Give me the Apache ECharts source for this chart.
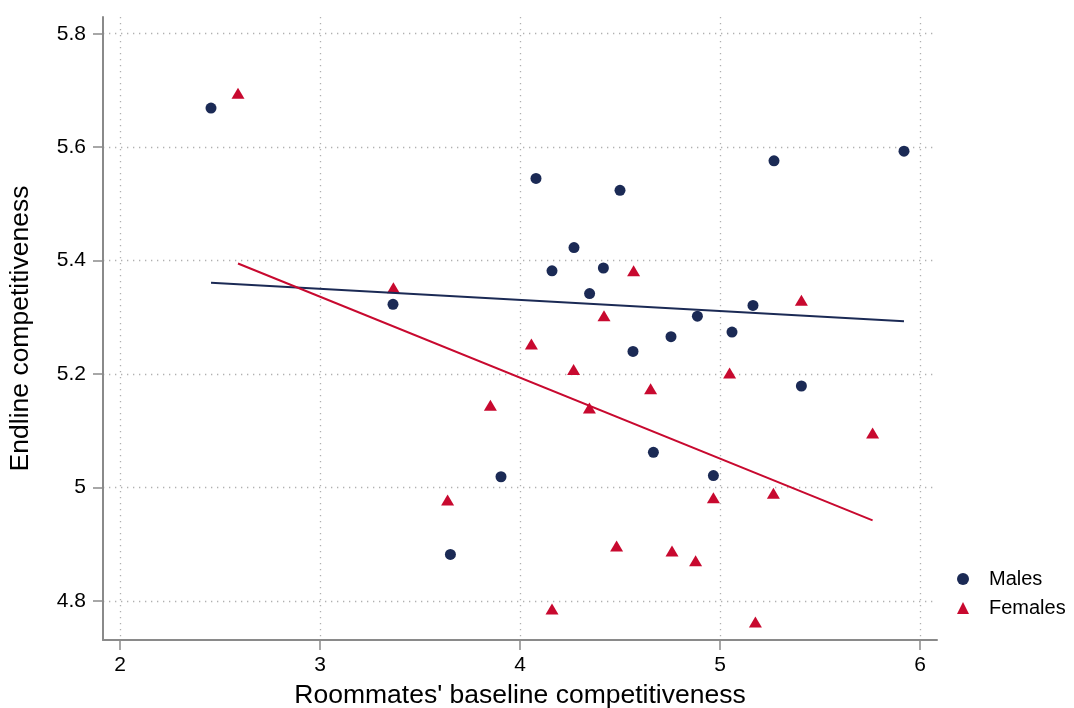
<!DOCTYPE html>
<html>
<head>
<meta charset="utf-8">
<script src="https://cdn.jsdelivr.net/npm/echarts@6/dist/echarts.min.js"></script>
<style>
  html, body { margin: 0; padding: 0; background: #fff; }
  #chart { width: 1074px; height: 708px; }
</style>
</head>
<body>
<div id="chart"></div>
<script>
// ---- data ----
const maleX = [2.455, 3.365, 4.08, 4.50, 5.27, 5.92, 4.27, 4.16, 4.417, 4.348, 4.887, 4.755, 4.565, 4.667, 3.905, 4.967, 5.06, 5.165, 5.407, 3.652];
const maleY = [5.669, 5.323, 5.545, 5.524, 5.576, 5.593, 5.423, 5.382, 5.387, 5.342, 5.302, 5.266, 5.240, 5.062, 5.019, 5.021, 5.274, 5.321, 5.179, 4.882];
const femaleX = [2.59, 3.367, 4.568, 4.42, 4.057, 4.268, 3.852, 4.347, 4.653, 5.407, 5.048, 5.763, 3.638, 4.967, 4.483, 4.76, 4.878, 4.16, 5.267, 5.177];
const femaleY = [5.695, 5.352, 5.382, 5.303, 5.253, 5.208, 5.145, 5.140, 5.174, 5.330, 5.202, 5.096, 4.978, 4.982, 4.897, 4.888, 4.871, 4.786, 4.990, 4.763];
const maleFitX = [2.455, 5.92];
const maleFitY = [5.361, 5.293];
const femaleFitX = [2.59, 5.763];
const femaleFitY = [5.395, 4.942];
const xTicks = [2, 3, 4, 5, 6];
const yTicks = [4.8, 5, 5.2, 5.4, 5.6, 5.8];
const seriesNames = ['Males', 'Females'];
const xTitle = "Roommates' baseline competitiveness";
const yTitle = 'Endline competitiveness';

const NAVY = '#1b2a55';
const RED = '#c8092f';
const FONT = 'Liberation Sans, Arial, sans-serif';

const zip = (xs, ys) => xs.map((x, i) => [x, ys[i]]);

const axisCommon = {
  type: 'value',
  axisLine: { show: true, lineStyle: { color: '#8a8a8a', width: 2 } },
  axisTick: { show: true, length: 10, lineStyle: { color: '#8a8a8a', width: 1.5 } },
  splitLine: { show: true, lineStyle: { color: '#b0b0b0', width: 1.3, type: [1.3, 4.7] } },
  nameLocation: 'middle',
  nameTextStyle: { fontFamily: FONT, fontSize: 26.5, color: '#000' },
  axisLabel: { fontFamily: FONT, fontSize: 21, color: '#000' }
};

const chart = echarts.init(document.getElementById('chart'), null, { renderer: 'canvas' });
chart.setOption({
  animation: false,
  backgroundColor: '#fff',
  grid: { left: 103, right: 137, top: 17, bottom: 68, containLabel: false, outerBoundsMode: 'none' },
  xAxis: Object.assign({}, axisCommon, {
    min: 1.915, max: 6.085,
    name: xTitle, nameGap: 42,
    axisTick: Object.assign({}, axisCommon.axisTick, { customValues: xTicks }),
    axisLabel: Object.assign({}, axisCommon.axisLabel, { customValues: xTicks, margin: 15 })
  }),
  yAxis: Object.assign({}, axisCommon, {
    min: 4.7312, max: 5.8295,
    name: yTitle, nameGap: 69, nameRotate: 90,
    axisTick: Object.assign({}, axisCommon.axisTick, { customValues: yTicks }),
    axisLabel: Object.assign({}, axisCommon.axisLabel, { customValues: yTicks, margin: 17 })
  }),
  legend: {
    data: seriesNames,
    orient: 'vertical',
    left: 952, top: 564,
    itemWidth: 12, itemHeight: 12, itemGap: 9,
    textStyle: { fontFamily: FONT, fontSize: 20, color: '#000', padding: [0, 0, 0, 15] }
  },
  series: [
    { name: seriesNames[0], type: 'scatter', symbol: 'circle', symbolSize: 11,
      itemStyle: { color: NAVY, opacity: 1 }, data: zip(maleX, maleY), z: 3 },
    { name: seriesNames[1], type: 'scatter', symbol: 'triangle', symbolSize: [13, 11],
      itemStyle: { color: RED, opacity: 1 }, data: zip(femaleX, femaleY), z: 3 },
    { name: 'Males fit', type: 'line', symbol: 'none', data: zip(maleFitX, maleFitY),
      lineStyle: { color: NAVY, width: 2 }, z: 4, silent: true },
    { name: 'Females fit', type: 'line', symbol: 'none', data: zip(femaleFitX, femaleFitY),
      lineStyle: { color: RED, width: 2 }, z: 4, silent: true }
  ]
});
</script>
</body>
</html>
